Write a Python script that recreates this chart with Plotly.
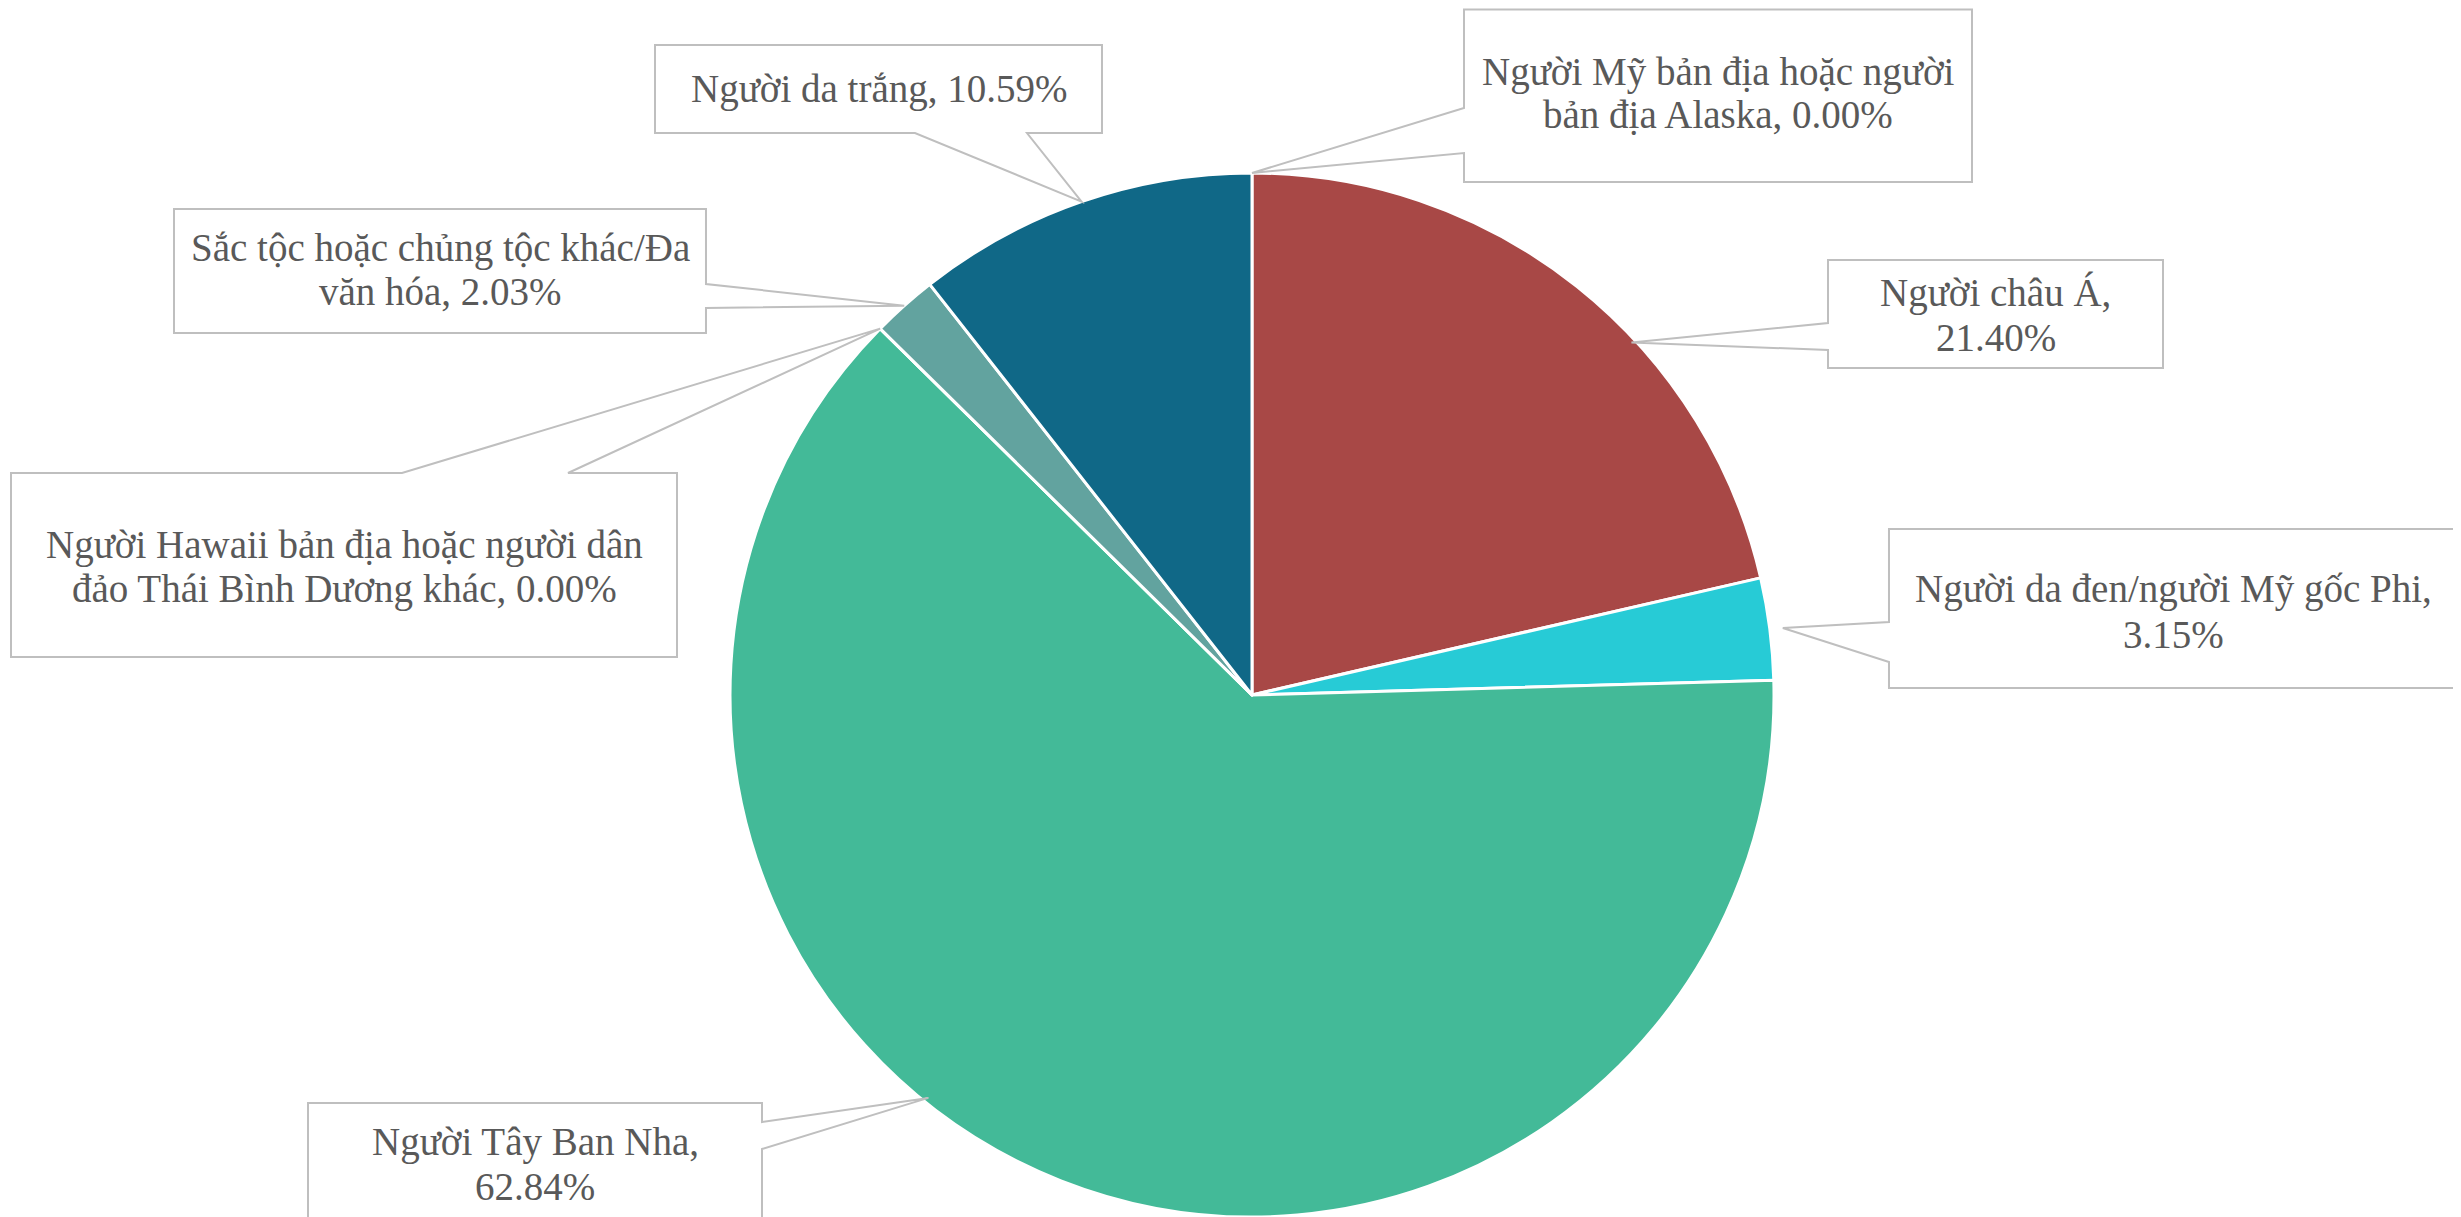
import math
import plotly.graph_objects as go

# ---------------- data ----------------
categories = [
    "Người Mỹ bản địa hoặc người bản địa Alaska",
    "Người châu Á",
    "Người da đen/người Mỹ gốc Phi",
    "Người Tây Ban Nha",
    "Người Hawaii bản địa hoặc người dân đảo Thái Bình Dương khác",
    "Sắc tộc hoặc chủng tộc khác/Đa văn hóa",
    "Người da trắng",
]
values = [0.00, 21.40, 3.15, 62.84, 0.00, 2.03, 10.59]
colors = ["#7F7F7F", "#A84846", "#27CBD6", "#43BA98", "#3E8F86", "#62A39F", "#106887"]

# ---------------- layout constants ----------------
W, H = 2461, 1217
OFF = 8                               # page body margin compensation
CX, CY, R = 1252 - OFF, 695 - OFF, 522  # pie centre / radius in figure px
FONT = "Liberation Serif"
FONT_SIZE = 39
TEXT_COLOR = "#595959"
BOX_LINE = "#BFBFBF"

# callout box layout (page px): box (x0,y0,x1,y1), wedge side, wedge attach span,
# words on first line, tip angle offset (deg) and tip radius factor, line centres y
callouts = [
    dict(box=(1464, 9.5, 1972, 182), side="left", span=(108, 153), wrap=6, off=0.0, rf=1.0, ly=(72, 115)),
    dict(box=(1828, 260, 2163, 368), side="left", span=(323, 350), wrap=3, off=8.6, rf=0.992, ly=(293, 337)),
    dict(box=(1889, 529, 2458, 688), side="left", span=(622, 662), wrap=6, off=0.1, rf=1.025, ly=(589, 634)),
    dict(box=(308, 1103, 762, 1262), side="right", span=(1122, 1149), wrap=4, off=17.3, rf=0.99, ly=(1142, 1186)),
    dict(box=(11, 473, 677, 657), side="top", span=(402, 568), wrap=7, off=0.0, rf=1.0, ly=(545, 589)),
    dict(box=(174, 209, 706, 333), side="right", span=(284, 308), wrap=6, off=0.0, rf=1.0, ly=(248, 292)),
    dict(box=(655, 45, 1102, 133), side="bottom", span=(915, 1027), wrap=99, off=0.0, rf=1.0, ly=(89,)),
]


def px(x, y):
    """figure px -> paper coords"""
    return x / W, 1 - y / H


fig = go.Figure()
fig.add_trace(go.Pie(
    labels=categories,
    values=values,
    sort=False,
    direction="clockwise",
    rotation=0,
    textinfo="none",
    hoverinfo="label+percent",
    marker=dict(colors=colors, line=dict(color="white", width=3)),
    showlegend=False,
    domain=dict(x=[(CX - R) / W, (CX + R) / W], y=[(H - CY - R) / H, (H - CY + R) / H]),
))

# slice mid angles from data
total = sum(values)
cum = 0.0
mids = []
for v in values:
    mids.append((cum + v / 2) / total * 360.0)
    cum += v

shapes = []
annotations = []
for i, c in enumerate(callouts):
    a = math.radians(mids[i] + c["off"])
    tx = CX + R * c["rf"] * math.sin(a)
    ty = CY - R * c["rf"] * math.cos(a)
    x0, y0, x1, y1 = [v - OFF for v in c["box"]]
    s0, s1 = [v - OFF for v in c["span"]]
    if c["side"] == "left":
        pts = [(x0, y0), (x1, y0), (x1, y1), (x0, y1), (x0, s1), (tx, ty), (x0, s0)]
    elif c["side"] == "right":
        pts = [(x0, y0), (x1, y0), (x1, s0), (tx, ty), (x1, s1), (x1, y1), (x0, y1)]
    elif c["side"] == "top":
        pts = [(x0, y0), (s0, y0), (tx, ty), (s1, y0), (x1, y0), (x1, y1), (x0, y1)]
    else:  # bottom
        pts = [(x0, y0), (x1, y0), (x1, y1), (s1, y1), (tx, ty), (s0, y1), (x0, y1)]
    path = "M " + " L ".join("%.5f,%.5f" % px(x, y) for x, y in pts) + " Z"
    shapes.append(dict(type="path", xref="paper", yref="paper", path=path,
                       fillcolor="white", line=dict(color=BOX_LINE, width=2), layer="above"))

    text = f"{categories[i]}, {values[i]:.2f}%"
    words = text.split(" ")
    lines = [" ".join(words[:c["wrap"]])]
    if len(words) > c["wrap"]:
        lines.append(" ".join(words[c["wrap"]:]))
    xc = (x0 + x1) / 2
    for ln, ly in zip(lines, c["ly"]):
        ax, ay = px(xc, ly - OFF)
        annotations.append(dict(x=ax, y=ay, xref="paper", yref="paper", text=ln,
                                showarrow=False, xanchor="center", yanchor="middle",
                                font=dict(family=FONT, size=FONT_SIZE, color=TEXT_COLOR)))

fig.update_layout(
    width=W, height=H,
    margin=dict(l=0, r=0, t=0, b=0),
    paper_bgcolor="white",
    plot_bgcolor="white",
    shapes=shapes,
    annotations=annotations,
)

fig.write_html("out.html")
